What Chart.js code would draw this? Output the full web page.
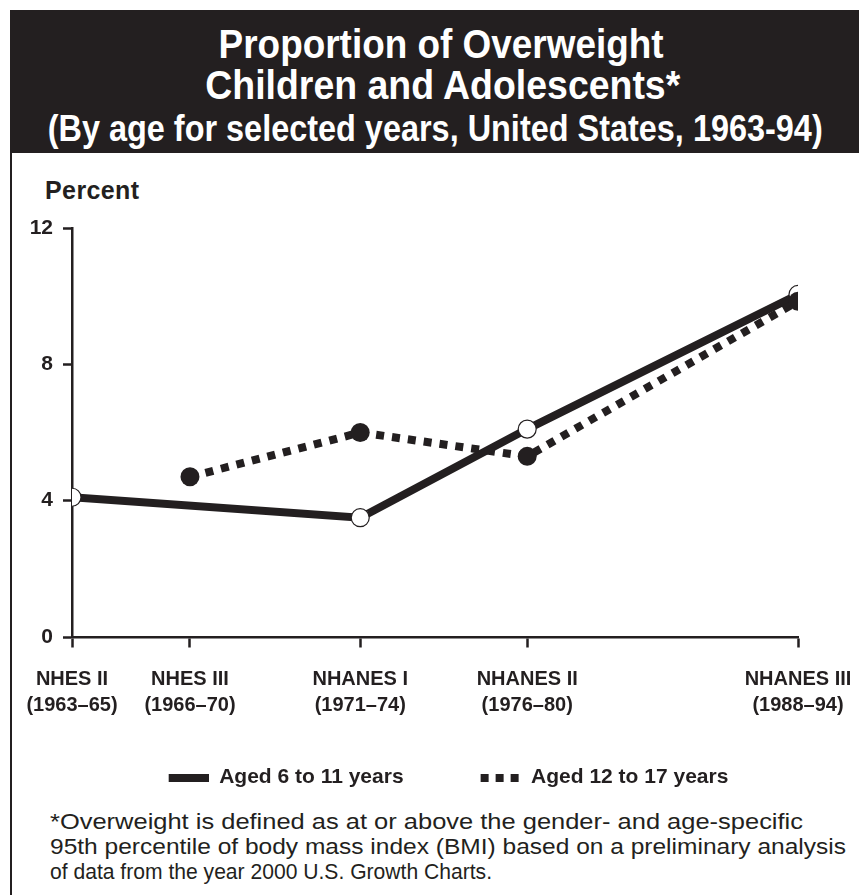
<!DOCTYPE html>
<html>
<head>
<meta charset="utf-8">
<script src="https://cdn.jsdelivr.net/npm/chart.js@4/dist/chart.umd.min.js"></script>
<style>
  html, body { margin: 0; padding: 0; background: #fff; }
  body { width: 859px; height: 895px; position: relative; overflow: hidden; font-family: "Liberation Sans", Arial, sans-serif; }
  #titlebox { position: absolute; left: 10px; top: 10px; width: 849px; height: 143px; background: #231f20; }
  #leftline { position: absolute; left: 10px; top: 150px; width: 2px; height: 745px; background: #231f20; }
  .tl { position: absolute; left: 0; width: 859px; text-align: center; color: #fff; font-weight: bold; white-space: nowrap; }
  .tl span, .fn span { display: inline-block; white-space: nowrap; }
  #percent { position: absolute; left: 45px; top: 178px; font-weight: bold; font-size: 25px; line-height: 25px; letter-spacing: 0.4px; color: #231f20; }
  .fn { position: absolute; left: 50px; font-size: 22px; line-height: 22px; color: #231f20; white-space: nowrap; }
  .fn span { transform-origin: left center; }
  #wrap { position: absolute; left: 0; top: 160px; width: 859px; height: 638px; }
</style>
</head>
<body>
<div id="titlebox"></div>
<div id="leftline"></div>
<div class="tl" style="top:24px;left:12px;font-size:40px;line-height:40px;"><span data-w="445">Proportion of Overweight</span></div>
<div class="tl" style="top:65px;left:13px;font-size:40px;line-height:40px;"><span data-w="475">Children and Adolescents*</span></div>
<div class="tl" style="top:111px;left:5px;font-size:36px;line-height:36px;"><span data-w="775">(By age for selected years, United States, 1963-94)</span></div>
<div id="percent">Percent</div>
<div id="wrap"><canvas id="c"></canvas></div>
<div class="fn" style="top:811px;"><span data-w="753">*Overweight is defined as at or above the gender- and age-specific</span></div>
<div class="fn" style="top:836px;"><span data-w="796">95th percentile of body mass index (BMI) based on a preliminary analysis</span></div>
<div class="fn" style="top:861px;"><span data-w="442">of data from the year 2000 U.S. Growth Charts.</span></div>
<script>
// ---- data ----
const surveys = ['NHES II', 'NHES III', 'NHANES I', 'NHANES II', 'NHANES III'];
const surveyYears = ['(1963–65)', '(1966–70)', '(1971–74)', '(1976–80)', '(1988–94)'];
const surveyAxisValue = [0, 16.25, 39.7, 62.7, 100];
const aged6to11 = [4.1, null, 3.5, 6.1, 10.05];
const aged12to17 = [null, 4.7, 6.0, 5.3, 9.85];
const yTickValues = [0, 4, 8, 12];
const seriesNames = ['Aged 6 to 11 years', 'Aged 12 to 17 years'];

// fit HTML text widths
document.querySelectorAll('[data-w]').forEach(el => {
  const w = el.getBoundingClientRect().width;
  el.style.transform = 'scaleX(' + (parseFloat(el.dataset.w) / w) + ')';
});

const INK = '#231f20';
function toPoints(vals) {
  const out = [];
  vals.forEach((v, i) => { if (v !== null) out.push({ x: surveyAxisValue[i], y: v }); });
  return out;
}
function legendSwatch(dotted) {
  const c = document.createElement('canvas');
  c.width = 72; c.height = 8;
  const g = c.getContext('2d');
  g.fillStyle = INK;
  if (dotted) { [32, 47, 62].forEach(x => g.fillRect(x, 0, 8, 8)); }
  else { g.fillRect(32, 0, 40, 8); }
  return c;
}

const chart = new Chart(document.getElementById('c'), {
  type: 'line',
  data: {
    datasets: [
      {
        label: seriesNames[0],
        data: toPoints(aged6to11),
        borderColor: INK, borderWidth: 8, borderCapStyle: 'butt',
        pointRadius: 9, pointBackgroundColor: '#fff', pointBorderColor: INK, pointBorderWidth: 1.2,
        order: 1, tension: 0
      },
      {
        label: seriesNames[1],
        data: toPoints(aged12to17),
        borderColor: INK, borderWidth: 8, borderDash: [8, 8], borderCapStyle: 'butt',
        pointRadius: 9.5, pointBackgroundColor: INK, pointBorderColor: INK, pointBorderWidth: 0,
        order: 0, tension: 0
      }
    ]
  },
  options: {
    responsive: true, maintainAspectRatio: false, animation: false,
    layout: { padding: { left: 6, right: 0, top: 68, bottom: 0 } },
    plugins: {
      tooltip: { enabled: false },
      title: { display: false },
      legend: {
        position: 'bottom',
        labels: {
          usePointStyle: true, pointStyleWidth: 72, padding: 45,
          color: INK, font: { family: 'Liberation Sans', weight: 'bold', size: 21 },
          sort: (a, b) => a.datasetIndex - b.datasetIndex,
          generateLabels: (ch) => {
            const items = Chart.defaults.plugins.legend.labels.generateLabels(ch);
            items.forEach(it => { it.pointStyle = legendSwatch(it.datasetIndex === 1); it.rotation = 0; });
            return items;
          }
        }
      }
    },
    scales: {
      x: {
        type: 'linear', min: surveyAxisValue[0], max: surveyAxisValue[surveyAxisValue.length - 1],
        afterBuildTicks: (s) => { s.ticks = surveyAxisValue.map(v => ({ value: v })); },
        afterFit: (s) => { s.height = 85; },
        grid: { display: true, drawOnChartArea: false, drawTicks: true, tickLength: 29, tickBorderDash: [9, 60], tickColor: INK, tickWidth: 2.5 },
        border: { display: true, color: INK, width: 2.5 },
        ticks: {
          autoSkip: false, maxRotation: 0, padding: 0, color: INK,
          font: { family: 'Liberation Sans', weight: 'bold', size: 20, lineHeight: 1.3 },
          callback: (v, i) => [surveys[i], surveyYears[i]]
        }
      },
      y: {
        min: 0, max: 12,
        afterBuildTicks: (s) => { s.ticks = yTickValues.map(v => ({ value: v })); },
        afterFit: (s) => { s.width = 66; },
        grid: { display: true, drawOnChartArea: false, drawTicks: true, tickLength: 9, tickColor: INK, tickWidth: 2.5 },
        border: { display: true, color: INK, width: 2.5 },
        ticks: { padding: 10, color: INK, font: { family: 'Liberation Sans', weight: 'bold', size: 21 } }
      },
      yRight: {
        position: 'right', display: true,
        afterFit: (s) => { s.width = 61; },
        grid: { display: false, drawTicks: false },
        border: { display: false },
        ticks: { display: false }
      }
    }
  }
});
</script>
</body>
</html>
